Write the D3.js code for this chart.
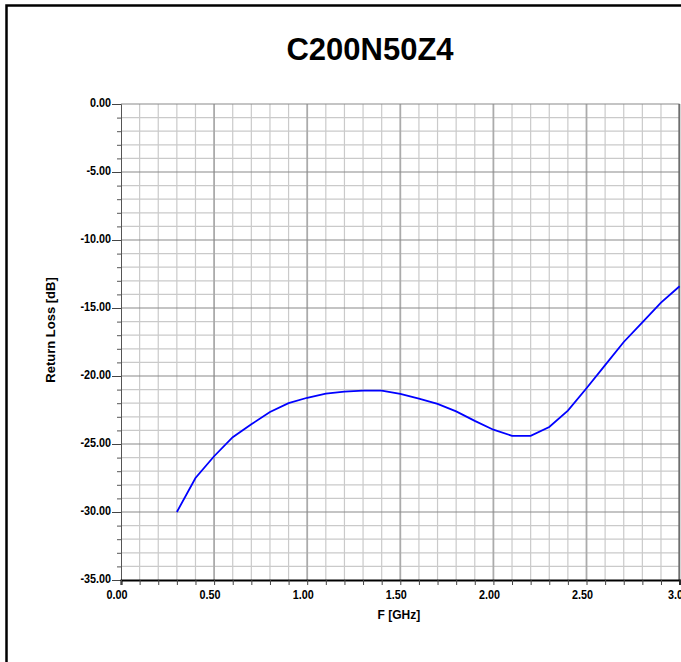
<html lang="en">
  <head>
    <meta charset="utf-8" />
    <title>C200N50Z4 Return Loss</title>
    <style>
     body {
       margin: 0;
       background: #fff;
     }
     svg {
       display: block;
     }
     .tick-label {
       font-family: "Liberation Sans", Arial, sans-serif;
       font-weight: bold;
       font-size: 13.5px;
       fill: #000;
     }
     .axis-title {
       font-family: "Liberation Sans", Arial, sans-serif;
       font-weight: bold;
       fill: #000;
     }
    </style>
  </head>

  <body>
    <div id="chart"></div>

    <script src="https://d3js.org/d3.v7.min.js"></script>
    <script>

     // measured return loss, one point every 0.1 GHz
     var freq = [0.3, 0.4, 0.5, 0.6, 0.7, 0.8, 0.9, 1.0, 1.1, 1.2, 1.3, 1.4,
                 1.5, 1.6, 1.7, 1.8, 1.9, 2.0, 2.1, 2.2, 2.3, 2.4, 2.5, 2.6,
                 2.7, 2.8, 2.9, 3.0];
     var returnLoss = [-30.0, -27.5, -25.9, -24.5, -23.55, -22.65, -22.0, -21.6,
                       -21.3, -21.15, -21.08, -21.08, -21.32, -21.67, -22.05, -22.6,
                       -23.3, -23.95, -24.4, -24.4, -23.75, -22.55, -20.9, -19.2,
                       -17.5, -16.05, -14.6, -13.4];

     var xTicks = [0, 0.5, 1.0, 1.5, 2.0, 2.5, 3.0];
     var xTickLabels = ["0.00", "0.50", "1.00", "1.50", "2.00", "2.50", "3.0"];
     var yTicks = [0, -5, -10, -15, -20, -25, -30, -35];
     var yTickLabels = ["0.00", "-5.00", "-10.00", "-15.00", "-20.00", "-25.00", "-30.00", "-35.00"];

     var title = "C200N50Z4";
     var xTitle = "F [GHz]";
     var yTitle = "Return Loss [dB]";

     var W = 681, H = 662;
     var plotLeft = 121, plotRight = 679.6, plotTop = 104, plotBottom = 580;
     var narrow = 0.8;   // tick labels are drawn in a condensed face

     var svg = d3.select("#chart")
                 .append("svg")
                 .attr("width", W)
                 .attr("height", H);

     var x = d3.scaleLinear().domain([0, 3]).range([plotLeft, plotRight]);
     var y = d3.scaleLinear().domain([0, -35]).range([plotTop, plotBottom]);

     var xMinor = d3.range(0, 31).map(function(i) { return i / 10; });
     var yMinor = d3.range(0, 36).map(function(i) { return -i; });

     // outer frame
     svg.append("path")
        .attr("d", "M6.5," + H + " V5.5 H" + W)
        .attr("fill", "none")
        .attr("stroke", "#000")
        .attr("stroke-width", 2.5);

     // grid
     var grid = svg.append("g");

     grid.selectAll("line.vminor")
         .data(xMinor.filter(function(d) { return Math.round(d * 10) % 5 != 0; }))
         .enter().append("line")
         .attr("x1", function(d) { return x(d); })
         .attr("x2", function(d) { return x(d); })
         .attr("y1", plotTop)
         .attr("y2", plotBottom)
         .attr("stroke", "#cacaca")
         .attr("stroke-width", 1.2);

     grid.selectAll("line.hminor")
         .data(yMinor.filter(function(d) { return d % 5 != 0; }))
         .enter().append("line")
         .attr("x1", plotLeft)
         .attr("x2", plotRight)
         .attr("y1", function(d) { return y(d); })
         .attr("y2", function(d) { return y(d); })
         .attr("stroke", "#cacaca")
         .attr("stroke-width", 1.2);

     grid.selectAll("line.vmajor")
         .data(xTicks.slice(1))
         .enter().append("line")
         .attr("x1", function(d) { return x(d); })
         .attr("x2", function(d) { return x(d); })
         .attr("y1", plotTop)
         .attr("y2", plotBottom)
         .attr("stroke", "#ababab")
         .attr("stroke-width", 1.8);

     grid.selectAll("line.hmajor")
         .data(yTicks.slice(0, -1))
         .enter().append("line")
         .attr("x1", plotLeft)
         .attr("x2", plotRight)
         .attr("y1", function(d) { return y(d); })
         .attr("y2", function(d) { return y(d); })
         .attr("stroke", "#8a8a8a")
         .attr("stroke-width", 1.2);

     // right edge of the plot
     svg.append("line")
        .attr("x1", plotRight - 0.5).attr("x2", plotRight - 0.5)
        .attr("y1", plotTop).attr("y2", plotBottom)
        .attr("stroke", "#555")
        .attr("stroke-width", 1.2);

     // y axis: minor ticks, then major ticks with labels
     svg.append("g")
        .attr("transform", "translate(" + plotLeft + ",0)")
        .call(d3.axisLeft(y).tickValues(yMinor).tickSize(4).tickFormat(""))
        .call(function(g) {
          g.select(".domain").attr("stroke", "#555");
          g.selectAll(".tick line").attr("stroke", "#555");
        });

     svg.append("g")
        .attr("transform", "translate(" + plotLeft + ",0)")
        .call(d3.axisLeft(y).tickValues(yTicks).tickSize(9).tickPadding(1)
                .tickFormat(function(d, i) { return yTickLabels[i]; }))
        .call(function(g) {
          g.select(".domain").remove();
          g.selectAll(".tick line").attr("stroke", "#444");
          g.selectAll(".tick text")
           .attr("class", "tick-label")
           .attr("x", -10 / narrow)
           .attr("dy", "0.2em")
           .attr("transform", "scale(" + narrow + ",1)")
           .attr("font-family", null)
           .attr("font-size", null);
        });

     // x axis
     svg.append("g")
        .attr("transform", "translate(0," + plotBottom + ")")
        .call(d3.axisBottom(x).tickValues(xMinor).tickSize(5).tickFormat(""))
        .call(function(g) {
          g.select(".domain").attr("stroke", "#000").attr("stroke-width", 2);
          g.selectAll(".tick line").attr("stroke", "#444");
        });

     svg.append("g")
        .attr("transform", "translate(0," + plotBottom + ")")
        .call(d3.axisBottom(x).tickValues(xTicks).tickSize(0).tickPadding(9)
                .tickFormat(function(d, i) { return xTickLabels[i]; }))
        .call(function(g) {
          g.select(".domain").remove();
          g.selectAll(".tick text")
           .attr("class", "tick-label")
           .attr("x", -4.5 / narrow)
           .attr("transform", "scale(" + narrow + ",1)")
           .attr("font-family", null)
           .attr("font-size", null);
        });

     // curve
     var line = d3.line()
                  .x(function(d, i) { return x(freq[i]); })
                  .y(function(d) { return y(d); });

     svg.append("path")
        .datum(returnLoss)
        .attr("d", line)
        .attr("fill", "none")
        .attr("stroke", "#0000ff")
        .attr("stroke-width", 1.8);

     // titles
     svg.append("text")
        .attr("class", "axis-title")
        .attr("x", 370)
        .attr("y", 60)
        .attr("text-anchor", "middle")
        .attr("font-size", 31)
        .text(title);

     svg.append("text")
        .attr("class", "axis-title")
        .attr("x", (plotLeft + plotRight) / 2 - 1.5)
        .attr("y", 619)
        .attr("text-anchor", "middle")
        .attr("font-size", 12)
        .text(xTitle);

     svg.append("text")
        .attr("class", "axis-title")
        .attr("transform", "translate(55," + 330 + ") rotate(-90)")
        .attr("text-anchor", "middle")
        .attr("font-size", 13)
        .text(yTitle);

    </script>
  </body>
</html>
